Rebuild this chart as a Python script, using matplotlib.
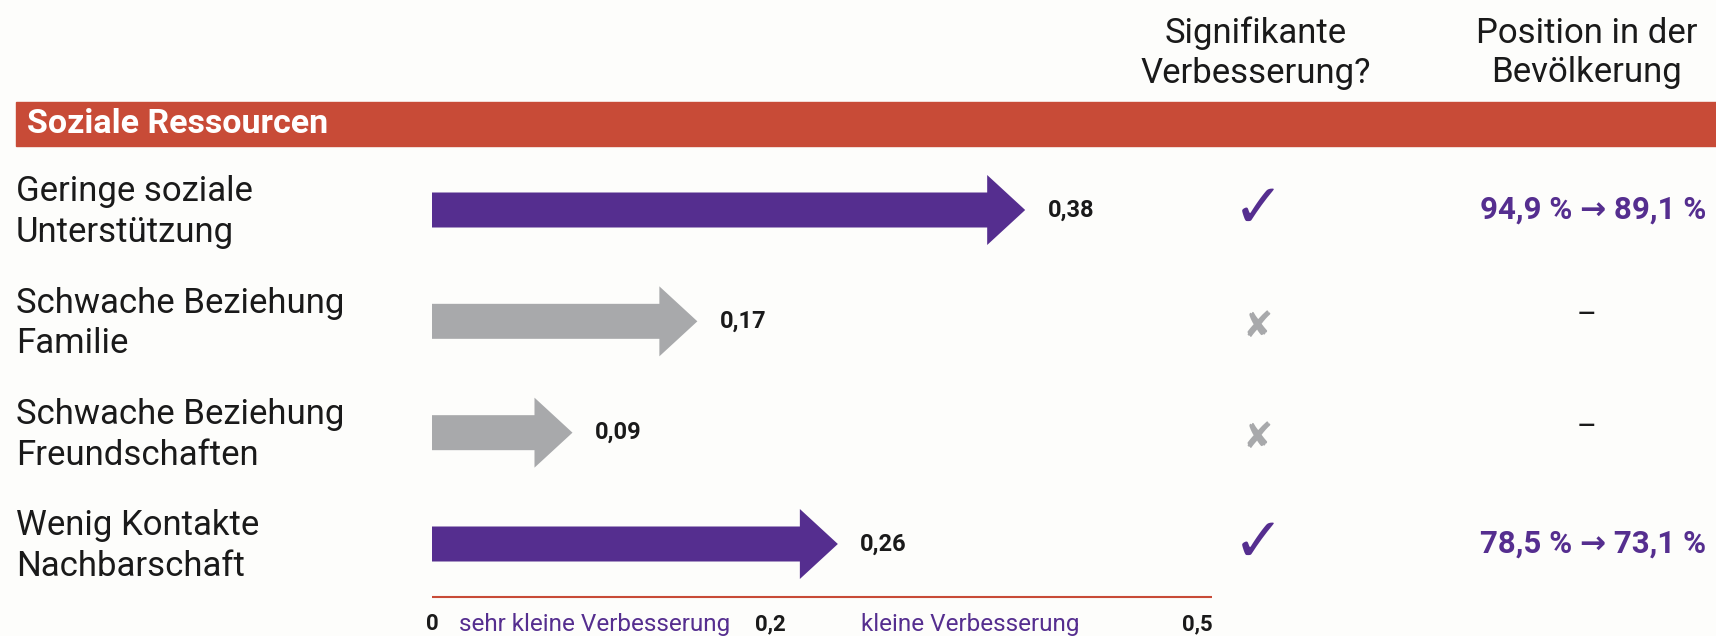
import matplotlib
matplotlib.use("Agg")
import matplotlib.pyplot as plt
from matplotlib.transforms import blended_transform_factory

# ---- data ----
categories = ["Geringe soziale\nUnterstützung",
              "Schwache Beziehung\nFamilie",
              "Schwache Beziehung\nFreundschaften",
              "Wenig Kontakte\nNachbarschaft"]
effect_sizes = [0.38, 0.17, 0.09, 0.26]
effect_labels = ["0,38", "0,17", "0,09", "0,26"]
significant = [True, False, False, True]
population_position = ["94,9 % \u2192 89,1 %", "\u2013", "\u2013", "78,5 % \u2192 73,1 %"]
axis_ticks = [0, 0.2, 0.5]
axis_tick_labels = ["0", "0,2", "0,5"]
range_labels = ["sehr kleine Verbesserung", "kleine Verbesserung"]
section_title = "Soziale Ressourcen"
col_headers = ["Signifikante\nVerbesserung?", "Position in der\nBevölkerung"]

PURPLE = "#552E8F"
GRAY = "#A8A9AB"
RED = "#C84B37"
BG = "#FDFDFB"
TXT = "#1A1A1A"
FONT = ["Roboto", "DejaVu Sans"]

W, H = 1716, 636
fig = plt.figure(figsize=(W / 100, H / 100), dpi=100, facecolor=BG)
ax = fig.add_axes([0, 0, 1, 1])
ax.set_facecolor(BG)
ax.axis("off")

# x scale: value 0 at 432 px, 1561 px per unit
x0_px, ppu = 432.0, 1561.0
ax.set_xlim(-x0_px / ppu, (W - x0_px) / ppu)
# y: row index, row 0 at 210 px, row 3 at 544 px
y0_px, row_px = 210.0, (544.0 - 210.0) / 3
ax.set_ylim((H - y0_px) / row_px, -y0_px / row_px)

def fy(py):
    return 1 - py / H

# column headers
fig.text(1256 / W, fy(53), col_headers[0], ha="center", va="center",
         fontsize=25, color=TXT, family=FONT, linespacing=1.25)
fig.text(1587 / W, fy(53), col_headers[1], ha="center", va="center",
         fontsize=25, color=TXT, family=FONT, linespacing=1.25)

# section band
fig.patches.append(plt.Rectangle((16 / W, fy(146)), 1 - 16 / W, (146 - 102) / H,
                                 transform=fig.transFigure, color=RED, zorder=0))
fig.text(27 / W, fy(124), section_title, ha="left", va="center", fontsize=24.5,
         fontweight="bold", color="white", family=FONT)

head_len = 38 / ppu
for i, (cat, v, lab, sig, pos) in enumerate(zip(categories, effect_sizes, effect_labels,
                                                  significant, population_position)):
    col = PURPLE if sig else GRAY
    ax.arrow(0, i, v, 0, width=35 / row_px, head_width=70 / row_px, head_length=head_len,
             length_includes_head=True, color=col, linewidth=0)
    ax.annotate(lab, (v, i), xytext=(16, 0), textcoords="offset points",
                ha="left", va="center", fontsize=17, fontweight="semibold", color=TXT, family=FONT)
    ax.text(-x0_px / ppu + 16 / ppu, i + 0.02, cat, ha="left", va="center", fontsize=25,
            color=TXT, family=FONT, linespacing=1.3)
    if sig:
        ax.text((1258 - x0_px) / ppu, i, "\u2713", ha="center", va="center", fontsize=44,
                color=PURPLE, family=["DejaVu Sans"])
    else:
        ax.text((1258 - x0_px) / ppu, i + 0.05, "\u2718", ha="center", va="center", fontsize=26,
                color=GRAY, family=["DejaVu Sans"])
    if pos == "\u2013":
        ax.text((1587 - x0_px) / ppu, i - 0.05, pos, ha="center", va="center", fontsize=22,
                color=TXT, family=FONT)
    else:
        ax.text((1706 - x0_px) / ppu, i, pos, ha="right", va="center", fontsize=22.5,
                fontweight="bold", color=PURPLE, family=FONT)

# bottom axis
tr = blended_transform_factory(ax.transData, fig.transFigure)
ax.plot([axis_ticks[0], axis_ticks[-1]], [fy(596.5), fy(596.5)], transform=tr,
        color=RED, linewidth=1.5, solid_capstyle="butt")
ax.text(axis_ticks[0], fy(624), axis_tick_labels[0], transform=tr, ha="center", va="center",
        fontsize=16, fontweight="bold", color=TXT, family=FONT)
ax.annotate(axis_tick_labels[1], (axis_ticks[1], fy(624)), xycoords=tr, xytext=(8, 0),
            textcoords="offset points", ha="left", va="center",
            fontsize=16, fontweight="bold", color=TXT, family=FONT)
ax.text(axis_ticks[2], fy(624), axis_tick_labels[2], transform=tr, ha="right", va="center",
        fontsize=16, fontweight="bold", color=TXT, family=FONT)
ax.text(0.0175, fy(624), range_labels[0], transform=tr,
        ha="left", va="center", fontsize=17.5, color=PURPLE, family=FONT)
ax.text(0.345, fy(624), range_labels[1], transform=tr,
        ha="center", va="center", fontsize=17.5, color=PURPLE, family=FONT)

fig.savefig("out.png", dpi=100, facecolor=BG)
